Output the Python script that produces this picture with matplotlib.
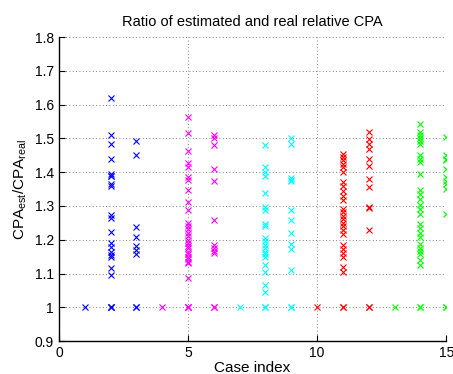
import numpy as np
import matplotlib
matplotlib.use('Agg')
import matplotlib.pyplot as plt

plt.rcParams['font.family'] = ['Liberation Sans', 'DejaVu Sans']
plt.rcParams['mathtext.default'] = 'regular'

# -------------- data --------------
case01 = [1.0]
case02 = [1.0, 1.0, 1.0, 1.619, 1.509, 1.484, 1.438, 1.395, 1.39, 1.388, 1.364, 1.36,
          1.272, 1.263, 1.222, 1.189, 1.178, 1.163, 1.154, 1.148, 1.115, 1.095]
case03 = [1.0, 1.0, 1.492, 1.45, 1.237, 1.208, 1.181, 1.169, 1.157]
case04 = [1.0]
case05 = [1.0, 1.0, 1.0, 1.563, 1.517, 1.464, 1.428, 1.415, 1.386, 1.376, 1.348, 1.312, 1.289,
          1.25, 1.24, 1.232, 1.22, 1.21, 1.2, 1.19, 1.182, 1.175, 1.165, 1.158, 1.15,
          1.142, 1.135, 1.13, 1.087]
case06 = [1.0, 1.0, 1.509, 1.50, 1.479, 1.41, 1.373, 1.257, 1.183, 1.175, 1.168, 1.16]
case07 = [1.0]
case08 = [1.0, 1.0, 1.479, 1.415, 1.40, 1.388, 1.338, 1.297, 1.287, 1.248, 1.24,
          1.204, 1.195, 1.185, 1.175, 1.165, 1.157, 1.149, 1.124, 1.104, 1.065, 1.045]
case09 = [1.0, 1.0, 1.502, 1.484, 1.382, 1.378, 1.373, 1.287, 1.257, 1.22, 1.188, 1.174, 1.109]
case10 = [1.0]
case11 = [1.0, 1.0, 1.455, 1.445, 1.435, 1.425, 1.415, 1.40, 1.37, 1.36, 1.345, 1.33, 1.317,
          1.292, 1.282, 1.27, 1.26, 1.25, 1.24, 1.228, 1.218, 1.183, 1.172, 1.16, 1.149,
          1.12, 1.104]
case12 = [1.0, 1.0, 1.519, 1.499, 1.484, 1.47, 1.44, 1.417, 1.38, 1.356, 1.297, 1.295, 1.228]
case13 = [1.0]
case14 = [1.0, 1.0, 1.543, 1.519, 1.51, 1.5, 1.492, 1.484, 1.45, 1.44, 1.43, 1.395,
          1.346, 1.335, 1.322, 1.302, 1.29, 1.277, 1.248, 1.235, 1.22, 1.208, 1.188,
          1.175, 1.168, 1.159, 1.139, 1.124]
case15 = [1.0, 1.0, 1.504, 1.45, 1.44, 1.435, 1.408, 1.386, 1.375, 1.365, 1.351, 1.275]

all_cases = [case01, case02, case03, case04, case05, case06, case07, case08,
             case09, case10, case11, case12, case13, case14, case15]
group_colors = ['#0000ff', '#ff00ff', '#00ffff', '#ff0000', '#00ff00']   # three cases per colour
# -------------------------------------------------------

fig = plt.figure(figsize=(4.53, 3.74), dpi=100)
ax = fig.add_axes([0.130, 0.088, 0.855, 0.813])

for i, vals in enumerate(all_cases):
    idx = i + 1
    col = group_colors[i // 3]
    ax.plot(np.full(len(vals), idx), vals, 'x', color=col, markersize=4.5,
            markeredgewidth=0.8, linestyle='none')

ax.set_xlim(0, 15)
ax.set_ylim(0.9, 1.8)
ax.set_xticks([0, 5, 10, 15])
ax.set_yticks(np.arange(0.9, 1.81, 0.1))
ax.set_yticklabels(['0.9', '1', '1.1', '1.2', '1.3', '1.4', '1.5', '1.6', '1.7', '1.8'])

ax.grid(True, linestyle=(0, (1, 3)), color='0.35', linewidth=0.6)
ax.set_axisbelow(True)
for s in ['top', 'right']:
    ax.spines[s].set_visible(False)
for s in ['left', 'bottom']:
    ax.spines[s].set_linewidth(1.0)
ax.tick_params(direction='in', length=4, width=0.8, labelsize=10)

ax.set_title('Ratio of estimated and real relative CPA', fontsize=10.5, pad=8)
ax.set_xlabel('Case index', fontsize=11, labelpad=1)
ax.set_ylabel('CPA$_{est}$/CPA$_{real}$', fontsize=11, labelpad=4)

plt.savefig('out.png', dpi=100)
